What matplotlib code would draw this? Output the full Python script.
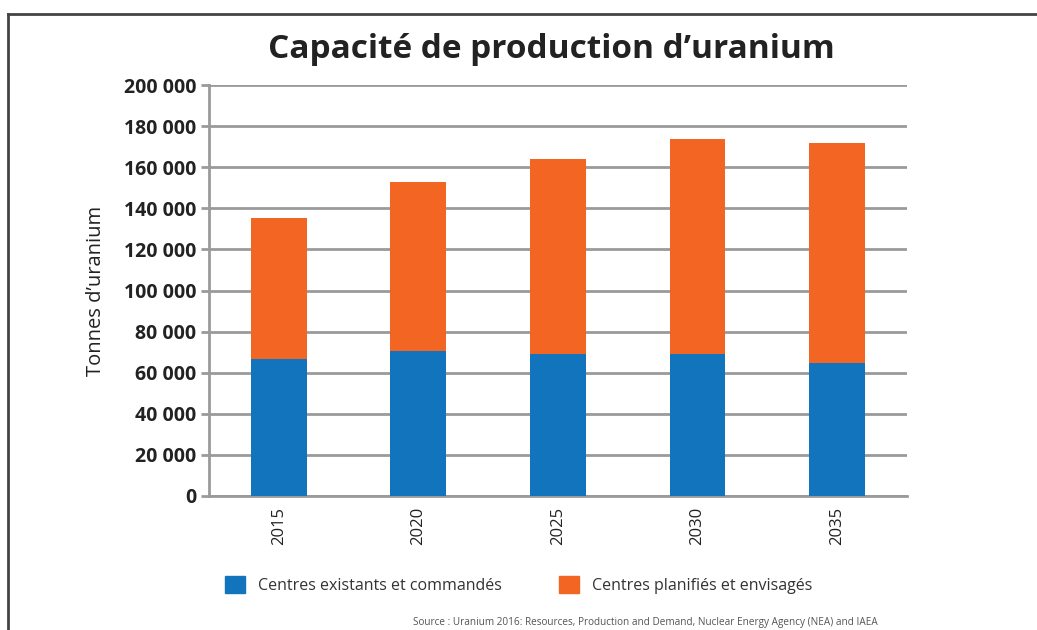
import matplotlib
matplotlib.use("Agg")
import matplotlib.pyplot as plt
from matplotlib.lines import Line2D
from matplotlib.patches import Patch
from matplotlib.ticker import FuncFormatter, MultipleLocator

plt.rcParams['font.family'] = ['Open Sans', 'DejaVu Sans']

years = ['2015', '2020', '2025', '2030', '2035']
existants = [66700, 70600, 69100, 69100, 64700]   # centres existants et commandés
totals = [135300, 152800, 164000, 173700, 172000]
planifies = [t - e for t, e in zip(totals, existants)]

blue = '#1174bc'
orange = '#f26522'
grid_grey = '#9a9a9a'

fig = plt.figure(figsize=(10.37, 6.30), dpi=100)
ax = fig.add_axes([0.2015, 0.2127, 0.673, 0.6523])

x = range(len(years))
ax.bar(x, existants, width=0.4, color=blue, zorder=3)
ax.bar(x, planifies, width=0.4, bottom=existants, color=orange, zorder=3)

ax.set_xlim(-0.5, 4.5)
ax.set_ylim(0, 200000)
ax.yaxis.set_major_locator(MultipleLocator(20000))
ax.yaxis.set_major_formatter(FuncFormatter(lambda v, p: f"{int(v):,}".replace(",", " ")))
ax.grid(axis='y', color=grid_grey, lw=2, zorder=0)
ax.set_axisbelow(True)

for s in ['top', 'right']:
    ax.spines[s].set_visible(False)
for s in ['left', 'bottom']:
    ax.spines[s].set_color(grid_grey)
    ax.spines[s].set_linewidth(2)

ax.set_xticks(list(x))
ax.set_xticklabels(years, rotation=90, fontsize=12, color='#222222')
ax.tick_params(axis='x', length=0, pad=8)
ax.tick_params(axis='y', length=6, width=2, color=grid_grey, pad=3)
for lab in ax.get_yticklabels():
    lab.set_fontweight('bold')
    lab.set_fontsize(14)
    lab.set_color('#222222')

ax.set_ylabel("Tonnes d\u2019uranium", fontsize=14.5, color='#222222', labelpad=13)

fig.text(0.532, 0.922, "Capacit\u00e9 de production d\u2019uranium", ha='center', va='center',
         fontsize=24, fontweight='bold', color='#222222')

handles = [Patch(color=blue, label="Centres existants et command\u00e9s"),
           Patch(color=orange, label="Centres planifi\u00e9s et envisag\u00e9s")]
fig.legend(handles=handles, loc='center', bbox_to_anchor=(0.5, 0.071), ncol=2,
           frameon=False, fontsize=11.5, handlelength=1.25, handleheight=1.25,
           columnspacing=3.6, handletextpad=0.8, labelcolor='#333333')

fig.text(0.622, 0.003, "Source : Uranium 2016: Resources, Production and Demand, Nuclear Energy Agency (NEA) and IAEA",
         ha='center', va='bottom', fontsize=7.2, color='#555555')

# cadre
fig.add_artist(Line2D([0.008, 1.0], [0.978, 0.978], color='#444444', lw=2))
fig.add_artist(Line2D([0.008, 0.008], [0.0, 0.978], color='#444444', lw=2))

fig.savefig("out.png", dpi=100)
